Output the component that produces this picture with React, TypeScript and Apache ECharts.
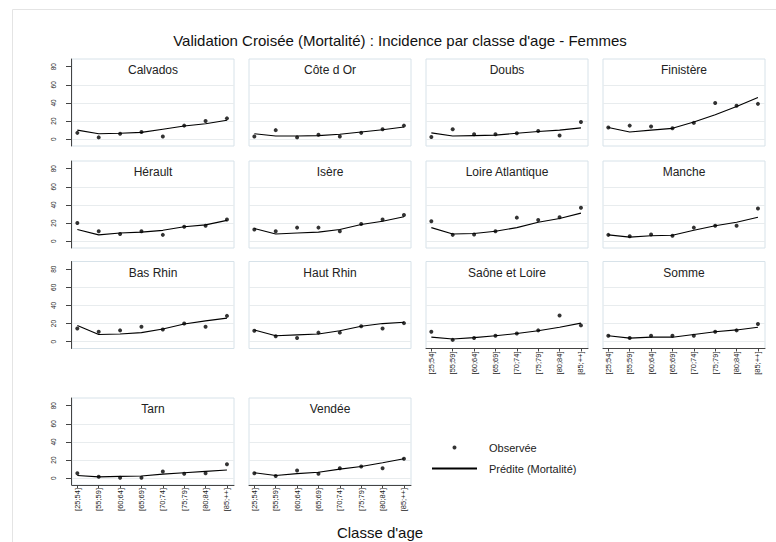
import React, { useEffect, useRef } from "react";
import * as echarts from "echarts";

// Age classes on the x axis
const ageClasses = ["[25;54]", "[55;59]", "[60;64]", "[65;69]", "[70;74]", "[75;79]", "[80;84]", "[85;++]"];

// Y-axis tick values and the reference grid lines
const yTickValues = [0, 20, 40, 60, 80];
const yGridValues = [0, 20, 40, 60];

// Observed incidence and predicted (mortality-based) incidence per département
const calvadosObs = [7, 2, 6, 8, 3, 15, 20, 23];
const calvadosPred = [10, 6, 6.5, 7.5, 11, 14.5, 17, 21];
const coteDOrObs = [3, 10, 2, 5, 3, 7, 11, 15];
const coteDOrPred = [6, 3.5, 3.5, 4, 5.5, 8, 10.5, 13.5];
const doubsObs = [2.5, 11, 5.5, 5.5, 6.5, 9, 4, 19];
const doubsPred = [7, 3.5, 4, 4.5, 6.5, 8.5, 10, 12.5];
const finistereObs = [13, 15, 14, 12, 18, 40, 37, 39];
const finisterePred = [13, 8, 10, 12, 19, 27, 36, 46];
const heraultObs = [20, 11, 8, 11, 7, 16, 17, 24];
const heraultPred = [13, 7, 9, 10, 12, 16, 18, 23];
const isereObs = [13, 11, 15, 15, 11, 19, 24, 29];
const iserePred = [14, 8, 9, 10, 13, 18.5, 22, 27];
const loireAtlObs = [22, 7, 7.5, 11, 26, 23.5, 26.5, 37];
const loireAtlPred = [15, 8, 8.5, 11, 15, 21, 25, 31];
const mancheObs = [7, 5.5, 7.5, 6, 15, 17, 17, 36];
const manchePred = [7, 4.5, 6, 6.5, 12, 17, 21, 26.5];
const basRhinObs = [14.5, 11, 12.5, 16.5, 13.5, 20, 16.5, 28.5];
const basRhinPred = [18, 8, 8.5, 10, 14, 19.5, 23, 26];
const hautRhinObs = [12, 6, 4, 10, 10, 17, 14.5, 20.5];
const hautRhinPred = [13, 6.5, 7.5, 8.5, 12, 17, 20, 21.5];
const saoneLoireObs = [11, 2, 4, 6.5, 9, 12.5, 29, 18];
const saoneLoirePred = [5, 3, 4.5, 6.5, 9, 12, 16, 20.5];
const sommeObs = [6.5, 4, 6.5, 6.5, 6.5, 11, 12.5, 19.5];
const sommePred = [6.5, 4, 5, 5, 8, 11, 13, 16];
const tarnObs = [5.5, 1.5, 0.5, 0.5, 7.5, 5, 5.5, 15.5];
const tarnPred = [3, 1.5, 2, 2.5, 4.5, 6, 7.5, 9];
const vendeeObs = [5.5, 2.5, 8.5, 5, 11, 13, 11, 21.5];
const vendeePred = [6, 3, 5, 6.5, 10, 13, 17, 21.5];

const departements = [
  "Calvados", "Côte d Or", "Doubs", "Finistère",
  "Hérault", "Isère", "Loire Atlantique", "Manche",
  "Bas Rhin", "Haut Rhin", "Saône et Loire", "Somme",
  "Tarn", "Vendée",
];
const observed = [
  calvadosObs, coteDOrObs, doubsObs, finistereObs,
  heraultObs, isereObs, loireAtlObs, mancheObs,
  basRhinObs, hautRhinObs, saoneLoireObs, sommeObs,
  tarnObs, vendeeObs,
];
const predicted = [
  calvadosPred, coteDOrPred, doubsPred, finisterePred,
  heraultPred, iserePred, loireAtlPred, manchePred,
  basRhinPred, hautRhinPred, saoneLoirePred, sommePred,
  tarnPred, vendeePred,
];

const OBS_NAME = "Observée";
const PRED_NAME = "Prédite (Mortalité)";
const TITLE = "Validation Croisée (Mortalité) : Incidence par classe d'age - Femmes";
const X_TITLE = "Classe d'age";

const FONT = "'Liberation Sans', Arial, Helvetica, sans-serif";
const BORDER = "#d7e2e9";
const GRIDLINE = "#e8ecee";
const AXIS = "#444";
const TEXT = "#222";

// Panel geometry (4 columns, 4 rows)
const colLeft = [72, 249, 426, 603];
const rowTop = [59, 161, 261.5, 398];
const PANEL_W = 162;
const PANEL_H = 87;

function buildOption() {
  const grid: any[] = [];
  const xAxis: any[] = [];
  const yAxis: any[] = [];
  const series: any[] = [];
  const graphic: any[] = [];
  const tickIdx = ageClasses.map((_, k) => k);

  graphic.push({
    type: "rect",
    z: -10,
    shape: { x: 12.5, y: 9.5, width: 800, height: 600 },
    style: { fill: "none", stroke: "#e4e4e4", lineWidth: 1 },
    silent: true,
  });

  departements.forEach((name, i) => {
    const row = Math.floor(i / 4);
    const col = i % 4;
    const left = colLeft[col];
    const top = rowTop[row];
    const showX = i >= 10;
    const showY = col === 0;

    grid.push({
      left,
      top,
      width: PANEL_W,
      height: PANEL_H,
      show: true,
      borderColor: BORDER,
      borderWidth: 1,
      backgroundColor: "#fff",
    });

    xAxis.push({
      type: "value",
      gridIndex: i,
      min: -0.25,
      max: 7.33,
      position: "bottom",
      axisLine: { show: showX, onZero: false, lineStyle: { color: AXIS, width: 1 } },
      axisTick: { show: showX, customValues: tickIdx, length: 3, lineStyle: { color: AXIS } },
      axisLabel: {
        show: showX,
        customValues: tickIdx,
        rotate: 90,
        margin: 3,
        fontSize: 7.5,
        fontFamily: FONT,
        color: TEXT,
        formatter: (v: number) => ageClasses[Math.round(v)] ?? "",
      },
      splitLine: { show: false },
    });

    yAxis.push({
      type: "value",
      gridIndex: i,
      min: -7.5,
      max: 88.5,
      position: "left",
      offset: 1,
      axisLine: { show: showY, onZero: false, lineStyle: { color: AXIS, width: 1 } },
      axisTick: { show: showY, customValues: yTickValues, length: 5, lineStyle: { color: AXIS } },
      axisLabel: {
        show: showY,
        customValues: yTickValues,
        rotate: 90,
        margin: 14,
        fontSize: 6.5,
        fontFamily: FONT,
        color: TEXT,
      },
      splitLine: { show: false },
    });
    yAxis.push({
      type: "value",
      gridIndex: i,
      min: -7.5,
      max: 88.5,
      position: "right",
      axisLine: { show: false },
      axisTick: { show: false, customValues: yGridValues },
      axisLabel: { show: false, customValues: yGridValues },
      splitLine: { show: true, lineStyle: { color: GRIDLINE, width: 1 } },
    });

    series.push({
      name: PRED_NAME,
      type: "line",
      xAxisIndex: i,
      yAxisIndex: 2 * i,
      data: predicted[i].map((v, k) => [k, v]),
      symbol: "none",
      lineStyle: { color: "#000", width: 1.1 },
      itemStyle: { color: "#000" },
      z: 3,
    });
    series.push({
      name: OBS_NAME,
      type: "scatter",
      xAxisIndex: i,
      yAxisIndex: 2 * i,
      data: observed[i].map((v, k) => [k, v]),
      symbol: "circle",
      symbolSize: 4,
      itemStyle: { color: "#000" },
      z: 4,
    });

    graphic.push({
      type: "text",
      z: 10,
      x: left + PANEL_W / 2,
      y: top + 11,
      style: {
        text: name,
        fill: TEXT,
        font: `12px ${FONT}`,
        textAlign: "center",
        textVerticalAlign: "middle",
      },
      silent: true,
    });
  });

  graphic.push({
    type: "text",
    z: 10,
    x: 400,
    y: 40.5,
    style: {
      text: TITLE,
      fill: "#111",
      font: `15px ${FONT}`,
      textAlign: "center",
      textVerticalAlign: "middle",
    },
    silent: true,
  });
  graphic.push({
    type: "text",
    z: 10,
    x: 380,
    y: 532,
    style: {
      text: X_TITLE,
      fill: "#111",
      font: `15px ${FONT}`,
      textAlign: "center",
      textVerticalAlign: "middle",
    },
    silent: true,
  });

  return {
    animation: false,
    backgroundColor: "#fff",
    textStyle: { fontFamily: FONT },
    grid,
    xAxis,
    yAxis,
    series,
    graphic,
    legend: {
      orient: "vertical",
      left: 431,
      top: 441.5,
      padding: 0,
      itemWidth: 45,
      itemHeight: 4,
      itemGap: 9,
      selectedMode: false,
      textStyle: { fontSize: 11, lineHeight: 12, color: TEXT, fontFamily: FONT, padding: [0, 0, 0, 7] },
      data: [
        { name: OBS_NAME, icon: "circle" },
        { name: PRED_NAME, itemStyle: { opacity: 0 } },
      ],
    },
  };
}

export default function App() {
  const ref = useRef<HTMLDivElement>(null);
  useEffect(() => {
    if (!ref.current) return;
    const chart = echarts.init(ref.current, undefined, { renderer: "svg" });
    chart.setOption(buildOption() as any);
    return () => chart.dispose();
  }, []);
  return (
    <div
      ref={ref}
      style={{ position: "fixed", left: 0, top: 0, width: 776, height: 542, background: "#fff" }}
    />
  );
}
